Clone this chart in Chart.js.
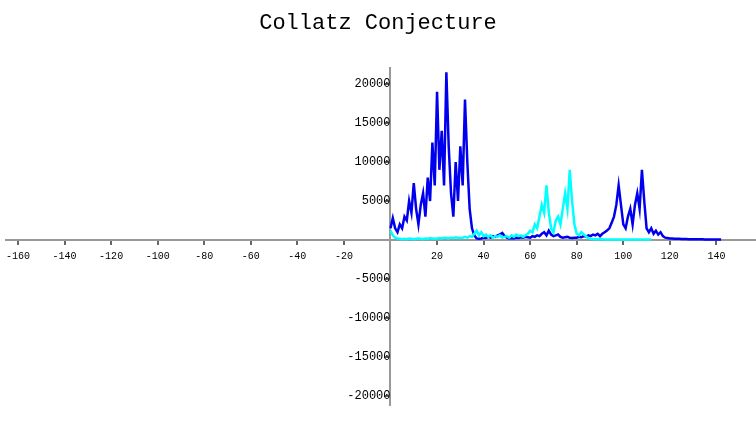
<!DOCTYPE html>
<html>
<head>
<meta charset="utf-8">
<script src="https://cdn.jsdelivr.net/npm/chart.js@4"></script>
<style>
  html, body { margin: 0; padding: 0; background: #fff; }
  #wrap { width: 756px; height: 422px; }
</style>
</head>
<body>
<div id="wrap"><canvas id="chart"></canvas></div>
<script>
// values per integer n, starting at n = 0
const blueSteps = [
  1500, 2800, 1500, 1000, 2000, 1500, 3000, 2500, 5000, 3500,
  7300, 4000, 2000, 4500, 6000, 3000, 8000, 5000, 12500, 7000,
  19000, 9000, 14000, 7000, 21500, 12000, 6000, 3000, 10000, 5000,
  12000, 7000, 18000, 10000, 4000, 1500, 600, 200, 150, 200,
  300, 250, 400, 300, 500, 400, 600, 700, 900, 500,
  300, 200, 250, 200, 300, 250, 350, 300, 400, 350,
  300, 500, 400, 600, 500, 800, 1000, 600, 1200, 700,
  500, 600, 700, 400, 300, 350, 400, 300, 250, 300,
  300, 400, 350, 500, 450, 600, 500, 700, 600, 800,
  500, 800, 1000, 1200, 1500, 2200, 3000, 4500, 7000, 4500,
  2000, 1500, 3000, 4000, 2000, 4500, 6000, 4000, 9000, 5000,
  1500, 1000, 1500, 800, 1200, 700, 1000, 500, 300, 250,
  200, 200, 150, 150, 150, 120, 120, 120, 100, 100,
  100, 100, 100, 100, 100, 80, 80, 80, 80, 80,
  80, 80, 80
];
const cyanSteps = [
  1200, 600, 300, 200, 150, 100, 150, 100, 200, 150,
  100, 150, 200, 150, 100, 200, 150, 250, 200, 150,
  200, 250, 200, 300, 250, 200, 300, 250, 350, 300,
  250, 300, 400, 300, 500, 400, 800, 1200, 600, 1000,
  500, 700, 400, 600, 300, 500, 400, 600, 300, 400,
  500, 300, 600, 400, 700, 500, 600, 400, 600, 800,
  1200, 1000, 2000, 1500, 3000, 4500, 3500, 7000, 3500, 1500,
  1000, 2500, 3000, 2000, 4000, 6000, 4000, 9000, 5000, 2000,
  800, 600, 1000, 700, 500, 200, 150, 120, 100, 100,
  100, 100, 80, 80, 80, 80, 80, 80, 80, 80,
  60, 60, 60, 60, 60, 60, 60, 60, 60, 60,
  60, 60, 60
];
const xTicks = [-160, -140, -120, -100, -80, -60, -40, -20, 0, 20, 40, 60, 80, 100, 120, 140];
const yTicks = [-20000, -15000, -10000, -5000, 0, 5000, 10000, 15000, 20000];

const toPoints = (arr) => arr.map((v, i) => ({ x: i, y: v }));
const mono = 'Liberation Mono, DejaVu Sans Mono, monospace';

new Chart(document.getElementById('chart').getContext('2d'), {
  type: 'line',
  data: {
    datasets: [
      {
        label: 'cyan',
        data: toPoints(cyanSteps),
        borderColor: '#00ffff',
        borderWidth: 2.5,
        pointRadius: 0,
        tension: 0
      },
      {
        label: 'blue',
        data: toPoints(blueSteps),
        borderColor: '#0000ee',
        borderWidth: 2.5,
        pointRadius: 0,
        tension: 0
      }
    ]
  },
  options: {
    responsive: true,
    maintainAspectRatio: false,
    animation: false,
    layout: { padding: 0 },
    scales: {
      x: {
        type: 'linear',
        min: -165,
        max: 157,
        position: { y: 0 },
        afterBuildTicks: (s) => { s.ticks = xTicks.map(v => ({ value: v })); },
        grid: { drawOnChartArea: false, color: '#666', tickLength: 4, lineWidth: 2 },
        border: { color: '#999', width: 2 },
        ticks: {
          color: '#000',
          font: { family: mono, size: 10 },
          maxRotation: 0,
          autoSkip: false,
          padding: 6,
          callback: (v) => v === 0 ? '' : v
        }
      },
      y: {
        type: 'linear',
        min: -21125,
        max: 22000,
        position: { x: 0 },
        afterBuildTicks: (s) => { s.ticks = yTicks.map(v => ({ value: v })); },
        grid: { drawOnChartArea: false, color: '#666', tickLength: 5, lineWidth: 2 },
        border: { color: '#999', width: 2 },
        ticks: {
          color: '#000',
          font: { family: mono, size: 12 },
          autoSkip: false,
          padding: 10,
          callback: (v) => v === 0 ? '' : v
        }
      }
    },
    plugins: {
      legend: { display: false },
      tooltip: { enabled: false },
      title: {
        display: true,
        text: 'Collatz Conjecture',
        color: '#000',
        font: { family: mono, size: 22, weight: 'normal' },
        padding: { top: 10, bottom: 32 }
      }
    }
  }
});
</script>
</body>
</html>
